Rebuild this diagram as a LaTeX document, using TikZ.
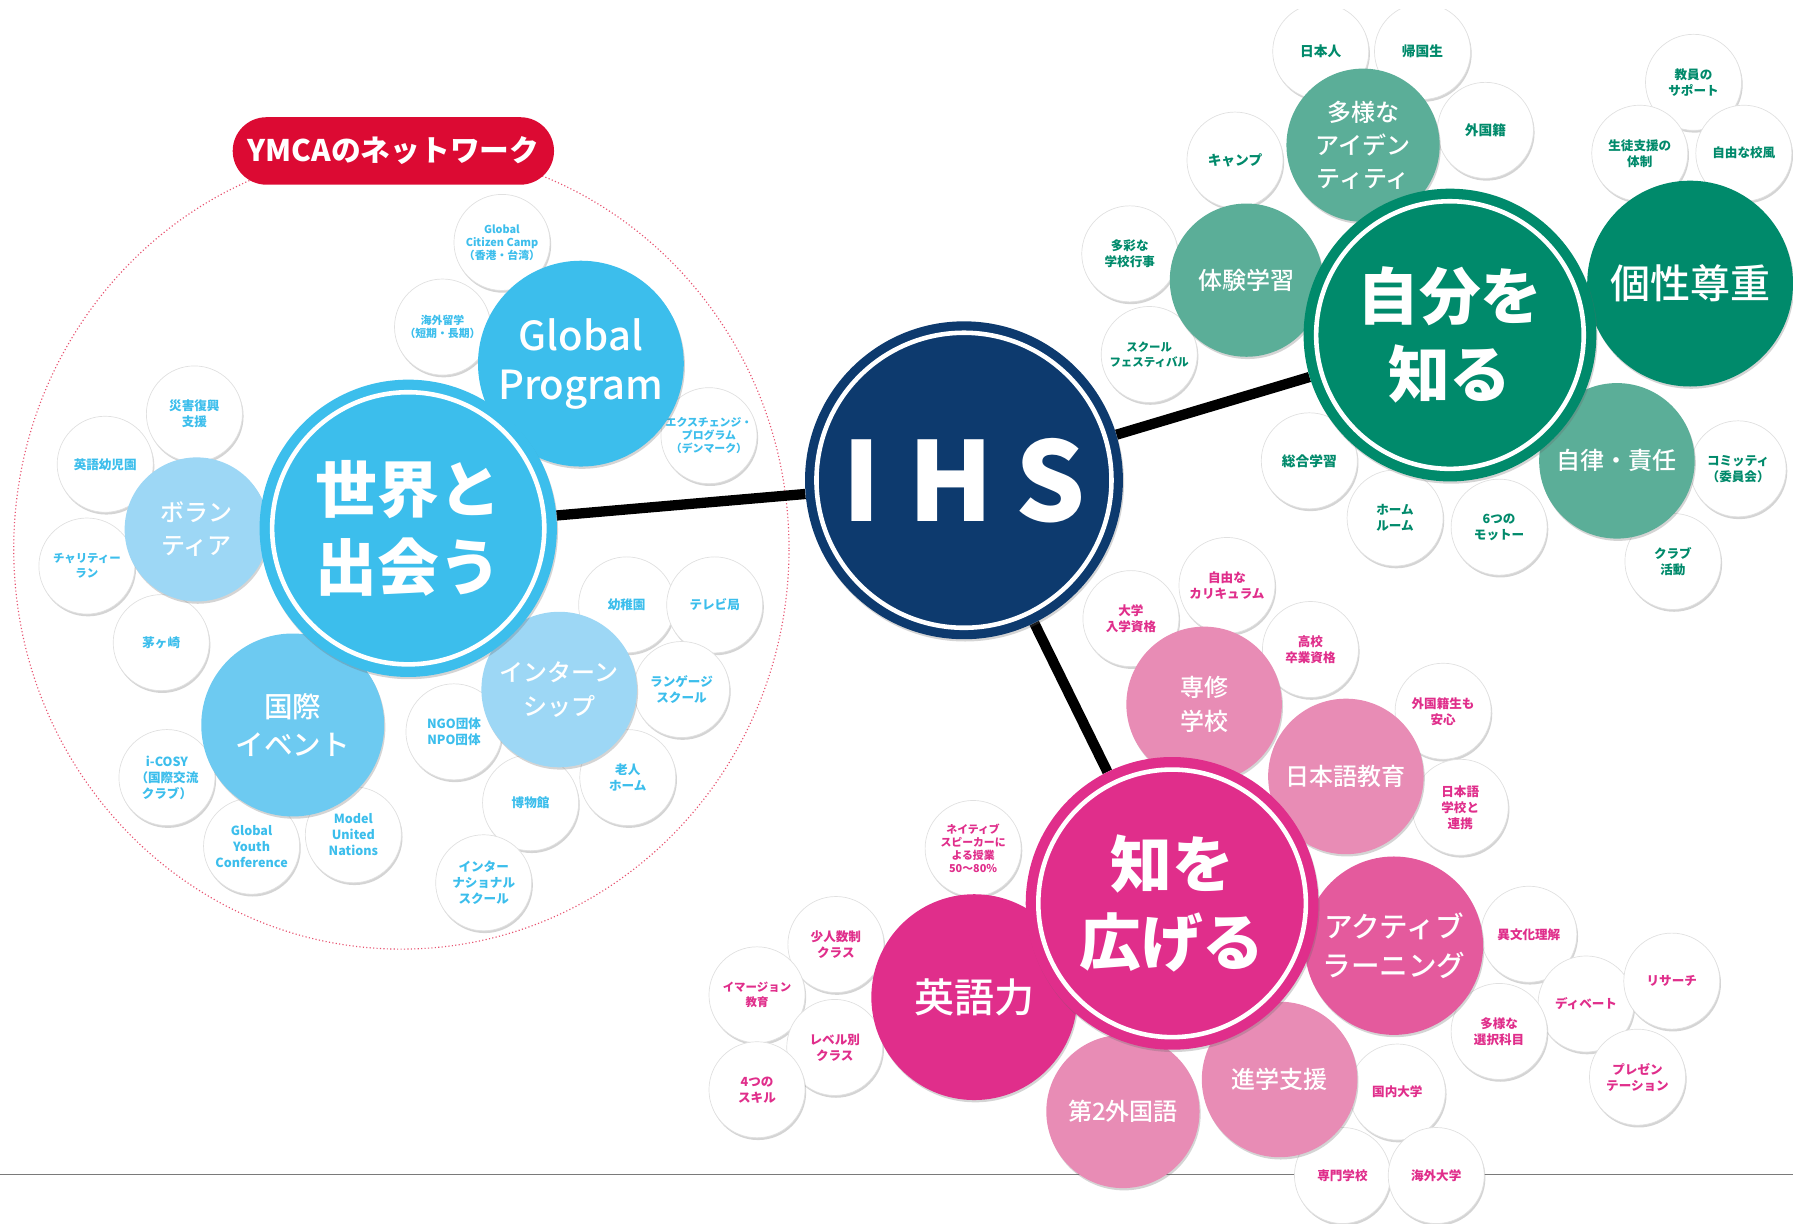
\documentclass[tikz,border=0pt]{standalone}
\usepackage{fontspec}
\usepackage{xcolor}
\usepackage{tikz}
\usetikzlibrary{shadows, backgrounds, shapes.misc}
\newfontfamily\jp{Noto Sans CJK JP}
\newfontfamily\jpm{Noto Sans CJK JP Medium}
\definecolor{ihscolor0}{HTML}{0D3A6E}
\definecolor{ihscolor1}{HTML}{3CBEEC}
\definecolor{ihscolor2}{HTML}{6DCAF1}
\definecolor{ihscolor3}{HTML}{9DD7F5}
\definecolor{ihscolor4}{HTML}{008A6B}
\definecolor{ihscolor5}{HTML}{5BAE98}
\definecolor{ihscolor6}{HTML}{E02E8B}
\definecolor{ihscolor7}{HTML}{E45A9D}
\definecolor{ihscolor8}{HTML}{E88CB5}
\definecolor{ihscolor9}{HTML}{DC0A33}
\definecolor{ihscolor10}{HTML}{7A7A7A}
\tikzset{
  soft_shadow/.style={drop shadow={shadow xshift=1pt, shadow yshift=-2pt, opacity=0.28, fill=black!60}},
  leaf/.style={circle, fill=white, draw=black!12, line width=0.6pt, minimum size=84pt, inner sep=0pt, align=center, soft_shadow, font=\jp\bfseries\fontsize{12}{15}\selectfont},
  leaf_blue/.style={leaf, text=ihscolor1},
  leaf_green/.style={leaf, text=ihscolor4},
  leaf_pink/.style={leaf, text=ihscolor6},
  leaf_small/.style={font=\jp\bfseries\fontsize{11}{14}\selectfont},
  leaf_narrow/.style={font=\jp\bfseries\fontsize{10}{13}\selectfont},
  leaf_tiny/.style={font=\jp\bfseries\fontsize{9.5}{11.5}\selectfont},
  sub/.style={circle, inner sep=0pt, align=center, text=white, soft_shadow, minimum size=#1},
  text_s/.style={font=\jpm\fontsize{21}{29}\selectfont},
  text_m/.style={font=\jpm\fontsize{25}{34}\selectfont},
  text_l/.style={font=\jpm\fontsize{35}{43}\selectfont},
  ring/.style={path picture={\draw[white, line width=4pt] (path picture bounding box.center) circle[radius=#1];}},
  main/.style={circle, inner sep=0pt, align=center, text=white, soft_shadow, minimum size=#1, font=\jp\bfseries\fontsize{54}{68}\selectfont},
  link/.style={line width=9pt, color=black},
  network_label/.style={rounded rectangle, fill=ihscolor9, text=white, minimum width=281pt, minimum height=59pt, inner sep=0pt, font=\jp\bfseries\fontsize{26}{26}\selectfont}
}
\begin{document}
\begin{tikzpicture}[x=1pt, y=-1pt]
\useasboundingbox (0,0) rectangle (1568,1070);
\begin{scope}
\clip (0,8) rectangle (1568,1070);
% white leaves, blue group
\node[leaf_blue, leaf_tiny] (b_camp) at (439,212) {Global\\Citizen Camp\\（香港・台湾）};
\node[leaf_blue, leaf_tiny] (b_abroad) at (387,286) {海外留学\\（短期・長期）};
\node[leaf_blue, leaf_tiny] (b_exchange) at (620,381) {エクスチェンジ・\\プログラム\\（デンマーク）};
\node[leaf_blue, leaf_small] (b_disaster) at (170,362) {災害復興\\支援};
\node[leaf_blue, leaf_small] (b_kinder_en) at (92,406) {英語幼児園};
\node[leaf_blue, leaf_narrow] (b_charity) at (76,495) {チャリティー\\ラン};
\node[leaf_blue, leaf_small] (b_chigasaki) at (141,562) {茅ヶ崎};
\node[leaf_blue, leaf_small] (b_icosy) at (146,680) {i-COSY\\（国際交流\\クラブ）};
\node[leaf_blue, leaf_small] (b_gyc) at (220,740) {Global\\Youth\\Conference};
\node[leaf_blue, leaf_small] (b_mun) at (309,730) {Model\\United\\Nations};
\node[leaf_blue, leaf_small] (b_ngo) at (397,640) {NGO団体\\NPO団体};
\node[leaf_blue, leaf_small] (b_museum) at (464,702) {博物館};
\node[leaf_blue, leaf_small] (b_elderly) at (549,680) {老人\\ホーム};
\node[leaf_blue, leaf_small] (b_intl_school) at (423,772) {インター\\ナショナル\\スクール};
\node[leaf_blue, leaf_small] (b_kinder) at (548,529) {幼稚園};
\node[leaf_blue, leaf_small] (b_tv) at (625,529) {テレビ局};
\node[leaf_blue, leaf_small] (b_language) at (596,603) {ランゲージ\\スクール};
% white leaves, green group
\node[leaf_green] (g_japanese) at (1155,45) {日本人};
\node[leaf_green] (g_returnee) at (1244,45) {帰国生};
\node[leaf_green] (g_foreign) at (1299,114) {外国籍};
\node[leaf_green] (g_camp) at (1080,140) {キャンプ};
\node[leaf_green, leaf_small] (g_events) at (988,222) {多彩な\\学校行事};
\node[leaf_green, leaf_narrow] (g_festival) at (1005,310) {スクール\\フェスティバル};
\node[leaf_green, leaf_small] (g_teacher) at (1481,72) {教員の\\サポート};
\node[leaf_green, leaf_small] (g_support) at (1434,134) {生徒支援の\\体制};
\node[leaf_green, leaf_small] (g_free) at (1525,134) {自由な校風};
\node[leaf_green] (g_general) at (1145,403) {総合学習};
\node[leaf_green, leaf_small] (g_homeroom) at (1220,453) {ホーム\\ルーム};
\node[leaf_green, leaf_small] (g_motto) at (1311,461) {6つの\\モットー};
\node[leaf_green, leaf_small] (g_committee) at (1520,410) {コミッティ\\（委員会）};
\node[leaf_green, leaf_small] (g_club) at (1463,491) {クラブ\\活動};
% white leaves, pink group
\node[leaf_pink, leaf_small] (p_univ_qual) at (989,541) {大学\\入学資格};
\node[leaf_pink, leaf_small] (p_curriculum) at (1073,512) {自由な\\カリキュラム};
\node[leaf_pink, leaf_small] (p_hs_qual) at (1146,568) {高校\\卒業資格};
\node[leaf_pink, leaf_small] (p_foreign) at (1262,622) {外国籍生も\\安心};
\node[leaf_pink, leaf_small] (p_jschool) at (1277,706) {日本語\\学校と\\連携};
\node[leaf_pink, leaf_tiny] (p_native) at (851,742) {ネイティブ\\スピーカーに\\よる授業\\50〜80\%};
\node[leaf_pink, leaf_small] (p_small_class) at (731,826) {少人数制\\クラス};
\node[leaf_pink, leaf_narrow] (p_immersion) at (662,870) {イマージョン\\教育};
\node[leaf_pink, leaf_small] (p_level) at (730,916) {レベル別\\クラス};
\node[leaf_pink, leaf_small] (p_skills) at (662,953) {4つの\\スキル};
\node[leaf_pink, leaf_small] (p_culture) at (1337,817) {異文化理解};
\node[leaf_pink, leaf_small] (p_debate) at (1387,878) {ディベート};
\node[leaf_pink, leaf_small] (p_research) at (1462,858) {リサーチ};
\node[leaf_pink, leaf_small] (p_electives) at (1311,902) {多様な\\選択科目};
\node[leaf_pink, leaf_small] (p_presentation) at (1432,942) {プレゼン\\テーション};
\node[leaf_pink, leaf_small] (p_domestic) at (1222,955) {国内大学};
\node[leaf_pink, leaf_small] (p_vocational) at (1174,1028) {専門学校};
\node[leaf_pink, leaf_small] (p_overseas) at (1256,1028) {海外大学};
% coloured sub bubbles
\node[sub=180pt, fill=ihscolor1, text_l] (global_program) at (508,318) {Global\\Program};
\node[sub=126pt, fill=ihscolor3, text_s] (volunteer) at (172,463) {ボラン\\ティア};
\node[sub=160pt, fill=ihscolor2, text_m] (intl_event) at (256,634) {国際\\イベント};
\node[sub=136pt, fill=ihscolor3, text_s] (internship) at (489,603) {インターン\\シップ};
\node[sub=134pt, fill=ihscolor5, text_s] (identity) at (1192,127) {多様な\\アイデン\\ティティ};
\node[sub=134pt, fill=ihscolor5, text_s] (experience) at (1090,245) {体験学習};
\node[sub=180pt, fill=ihscolor4, text_l] (individuality) at (1478,248) {個性尊重};
\node[sub=136pt, fill=ihscolor5, text_s] (autonomy) at (1414,403) {自律・責任};
\node[sub=136pt, fill=ihscolor8, text_s] (senshu) at (1053,616) {専修\\学校};
\node[sub=136pt, fill=ihscolor8, text_s] (nihongo) at (1177,679) {日本語教育};
\node[sub=156pt, fill=ihscolor7, text_m] (active) at (1219,827) {アクティブ\\ラーニング};
\node[sub=180pt, fill=ihscolor6, text_l] (english) at (852,872) {英語力};
\node[sub=134pt, fill=ihscolor8, text_s] (second_lang) at (982,972) {第2外国語};
\node[sub=136pt, fill=ihscolor8, text_s] (shingaku) at (1119,944) {進学支援};
% main bubbles
\node[main=260pt, fill=ihscolor1, ring=119pt] (world) at (357,462) {世界と\\出会う};
\node[main=256pt, fill=ihscolor4, ring=117pt] (self) at (1268,293) {自分を\\知る};
\node[main=256pt, fill=ihscolor6, ring=117pt] (know) at (1025,790) {知を\\広げる};
\node[main=278pt, fill=ihscolor0, ring=129pt, font=\jp\bfseries\fontsize{96}{96}\selectfont] (ihs) at (843,420) {I\hspace{0.25em}H\hspace{0.2em}S};
\node[network_label] (ymca_label) at (344,132) {YMCAのネットワーク};
\end{scope}
\begin{scope}[on background layer]
\draw[ihscolor10, line width=1.2pt] (0,1027) -- (1568,1027);
\draw[ihscolor9!70, dotted, line width=1pt] (351,480) ellipse [x radius=339pt, y radius=350pt];
\draw[link] (ihs) -- (world);
\draw[link] (ihs) -- (self);
\draw[link] (ihs) -- (know);
\end{scope}
\end{tikzpicture}
\end{document}
